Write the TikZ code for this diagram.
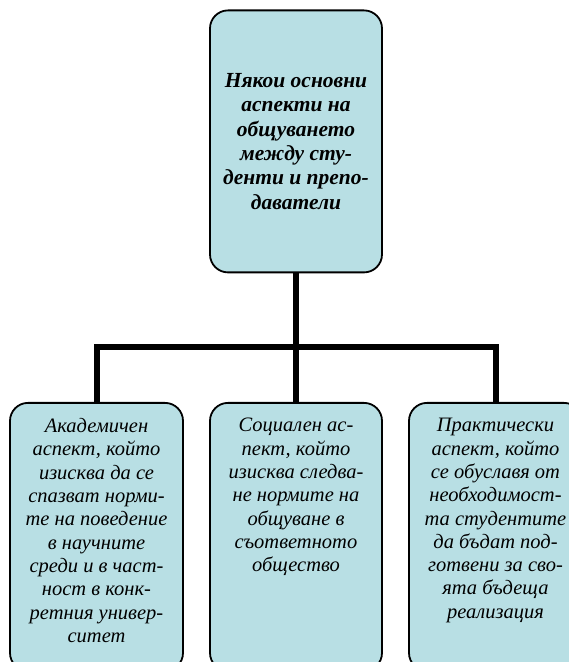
\documentclass[tikz,border=0pt]{standalone}
\usepackage{fontspec}
\setmainfont{Liberation Serif}
\usetikzlibrary{backgrounds}
\definecolor{boxfill}{RGB}{184,223,228}
\tikzset{
  box/.style={draw=black, line width=1.8pt, fill=boxfill, rounded corners=18pt, inner sep=0pt, anchor=north},
  conn/.style={draw=black, line width=6pt, line join=miter},
  toptext/.style={font=\fontsize{21.5}{24.3}\selectfont\bfseries\itshape},
  subtext/.style={font=\fontsize{20.5}{23.3}\selectfont\itshape}
}
\begin{document}
\begin{tikzpicture}[x=1pt,y=1pt]
\useasboundingbox (0,0) rectangle (569,662);
\clip (0,0) rectangle (569,662);
\node[box, toptext] (top) at (296,652.5) {\parbox[c][262pt][c]{172pt}{\centering
Някои основни\\ аспекти на\\ общуването\\ между сту-\\ денти и препо-\\ даватели}};
\node[box, subtext] (left) at (96.5,260) {\parbox[c][268pt][t]{173pt}{\centering\vspace*{15.5pt}
Академичен\\ аспект, който\\ изисква да се\\ спазват норми-\\ те на поведение\\ в научните\\ среди и в част-\\ ност в конк-\\ ретния универ-\\ ситет}};
\node[box, subtext] (mid) at (296,260) {\parbox[c][268pt][t]{172pt}{\centering\vspace*{15.5pt}
Социален ас-\\ пект, който\\ изисква следва-\\ не нормите на\\ общуване в\\ съответното\\ общество}};
\node[box, subtext] (right) at (495.5,260) {\parbox[c][268pt][t]{173pt}{\centering\vspace*{15.5pt}
Практически\\ аспект, който\\ се обуславя от\\ необходимост-\\ та студентите\\ да бъдат под-\\ готвени за сво-\\ ята бъдеща\\ реализация}};
\coordinate (bus) at (296,314.5);
\begin{scope}[on background layer]
\draw[conn] (top.south) -- (mid.north);
\draw[conn] (left.north) -- (left.north |- bus) -- (right.north |- bus) -- (right.north);
\end{scope}
\end{tikzpicture}
\end{document}
